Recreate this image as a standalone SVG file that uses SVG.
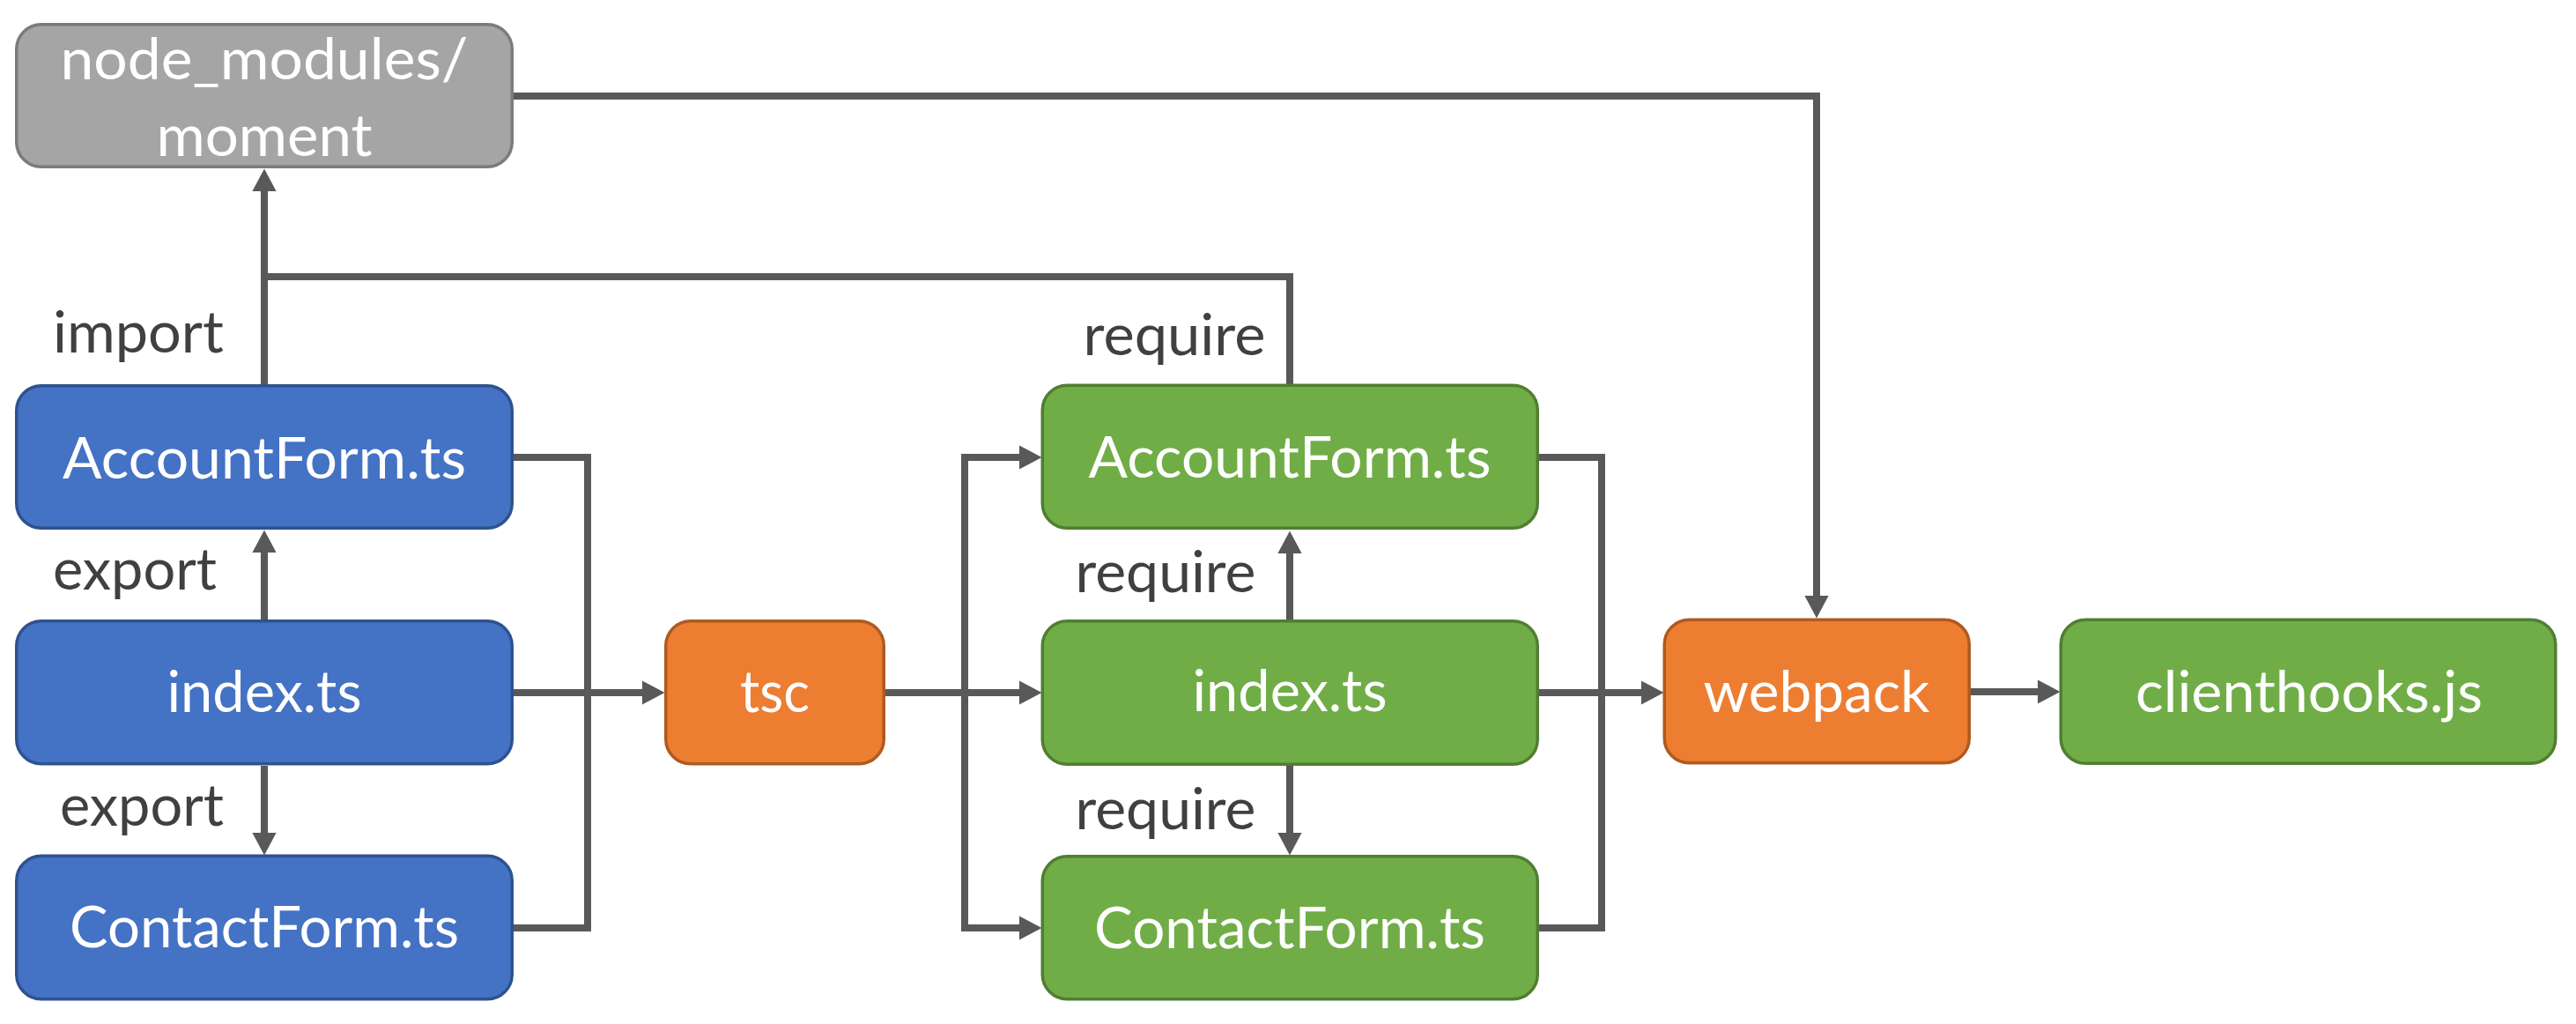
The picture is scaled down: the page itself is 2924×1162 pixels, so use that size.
<svg xmlns="http://www.w3.org/2000/svg" width="2924" height="1162" viewBox="0 0 2924 1162">
<style>
  .box { stroke-width: 3.5; }
  .blue { fill: #4472C4; stroke: #2F528F; }
  .green { fill: #70AD47; stroke: #507E32; }
  .orange { fill: #ED7D31; stroke: #AE5A21; }
  .gray { fill: #A5A5A5; stroke: #7B7B7B; }
  .nt { font-family: Lato, "Open Sans", "Liberation Sans", sans-serif; font-size: 66px; fill: #FFFFFF; text-anchor: middle; }
  .lbl { font-family: Lato, "Open Sans", "Liberation Sans", sans-serif; font-size: 66px; fill: #404040; text-anchor: middle; }
  .conn { fill: none; stroke: #595959; stroke-width: 8; stroke-linejoin: miter; stroke-linecap: butt; }
  .arr { marker-end: url(#ah); }
</style>
<defs>
  <marker id="ah" viewBox="0 0 10 10" refX="0" refY="5" markerUnits="strokeWidth" markerWidth="3.2" markerHeight="3.4" orient="auto-start-reverse" preserveAspectRatio="none">
    <path d="M0,0 L10,5 L0,10 Z" fill="#595959"/>
  </marker>
</defs>
<rect width="2924" height="1162" fill="#FFFFFF"/>

<g id="connectors">
  <path class="conn arr" d="M583,109 H2062 V676"/>
  <path class="conn arr" d="M300,436 V217"/>
  <path class="conn" d="M300,314 H1464 V436"/>
  <path class="conn arr" d="M300,703 V627"/>
  <path class="conn arr" d="M300,869 V945"/>
  <path class="conn" d="M583,519 H667 V1053 H583"/>
  <path class="conn arr" d="M583,786 H729"/>
  <path class="conn arr" d="M1005,786 H1157"/>
  <path class="conn" d="M1157,519 H1095 V1053 H1157" marker-start="url(#ah)" marker-end="url(#ah)"/>
  <path class="conn arr" d="M1464,703 V628"/>
  <path class="conn arr" d="M1464,869 V945"/>
  <path class="conn" d="M1747,519 H1818 V1053 H1747"/>
  <path class="conn arr" d="M1747,786 H1863"/>
  <path class="conn arr" d="M2237,785 H2313"/>
</g>

<g id="labels">
  <text class="lbl" x="157" y="400" textLength="194" lengthAdjust="spacingAndGlyphs">import</text>
  <text class="lbl" x="153" y="669" textLength="186" lengthAdjust="spacingAndGlyphs">export</text>
  <text class="lbl" x="161" y="937" textLength="186" lengthAdjust="spacingAndGlyphs">export</text>
  <text class="lbl" x="1333" y="403" textLength="207" lengthAdjust="spacingAndGlyphs">require</text>
  <text class="lbl" x="1323" y="672" textLength="205" lengthAdjust="spacingAndGlyphs">require</text>
  <text class="lbl" x="1323" y="941" textLength="205" lengthAdjust="spacingAndGlyphs">require</text>
</g>

<g id="node_moment">
  <rect class="box gray" x="18.75" y="27.75" width="562.5" height="161.5" rx="28"/>
  <text class="nt" x="300" y="90" textLength="463" lengthAdjust="spacingAndGlyphs">node_modules/</text>
  <text class="nt" x="300" y="177" textLength="245" lengthAdjust="spacingAndGlyphs">moment</text>
</g>
<g id="node_src_account">
  <rect class="box blue" x="18.75" y="437.75" width="562.5" height="161.5" rx="28"/>
  <text class="nt" x="300" y="543" textLength="458" lengthAdjust="spacingAndGlyphs">AccountForm.ts</text>
</g>
<g id="node_src_index">
  <rect class="box blue" x="18.75" y="704.75" width="562.5" height="162" rx="28"/>
  <text class="nt" x="300" y="808" textLength="221" lengthAdjust="spacingAndGlyphs">index.ts</text>
</g>
<g id="node_src_contact">
  <rect class="box blue" x="18.75" y="971.25" width="562.5" height="162.5" rx="28"/>
  <text class="nt" x="300" y="1075" textLength="442" lengthAdjust="spacingAndGlyphs">ContactForm.ts</text>
</g>
<g id="node_tsc">
  <rect class="box orange" x="755.75" y="704.75" width="247.5" height="162" rx="28"/>
  <text class="nt" x="879.5" y="808" textLength="79" lengthAdjust="spacingAndGlyphs">tsc</text>
</g>
<g id="node_out_account">
  <rect class="box green" x="1183.25" y="437.25" width="562" height="162" rx="28"/>
  <text class="nt" x="1464" y="542" textLength="457" lengthAdjust="spacingAndGlyphs">AccountForm.ts</text>
</g>
<g id="node_out_index">
  <rect class="box green" x="1183.25" y="704.75" width="562" height="162.5" rx="28"/>
  <text class="nt" x="1464" y="807" textLength="221" lengthAdjust="spacingAndGlyphs">index.ts</text>
</g>
<g id="node_out_contact">
  <rect class="box green" x="1183.25" y="971.75" width="562" height="162" rx="28"/>
  <text class="nt" x="1464" y="1076" textLength="444" lengthAdjust="spacingAndGlyphs">ContactForm.ts</text>
</g>
<g id="node_webpack">
  <rect class="box orange" x="1889.25" y="703.25" width="346" height="162.5" rx="28"/>
  <text class="nt" x="2062" y="808" textLength="257" lengthAdjust="spacingAndGlyphs">webpack</text>
</g>
<g id="node_clienthooks">
  <rect class="box green" x="2339.25" y="703.25" width="561.5" height="163" rx="28"/>
  <text class="nt" x="2621" y="808" textLength="394" lengthAdjust="spacingAndGlyphs">clienthooks.js</text>
</g>
</svg>
